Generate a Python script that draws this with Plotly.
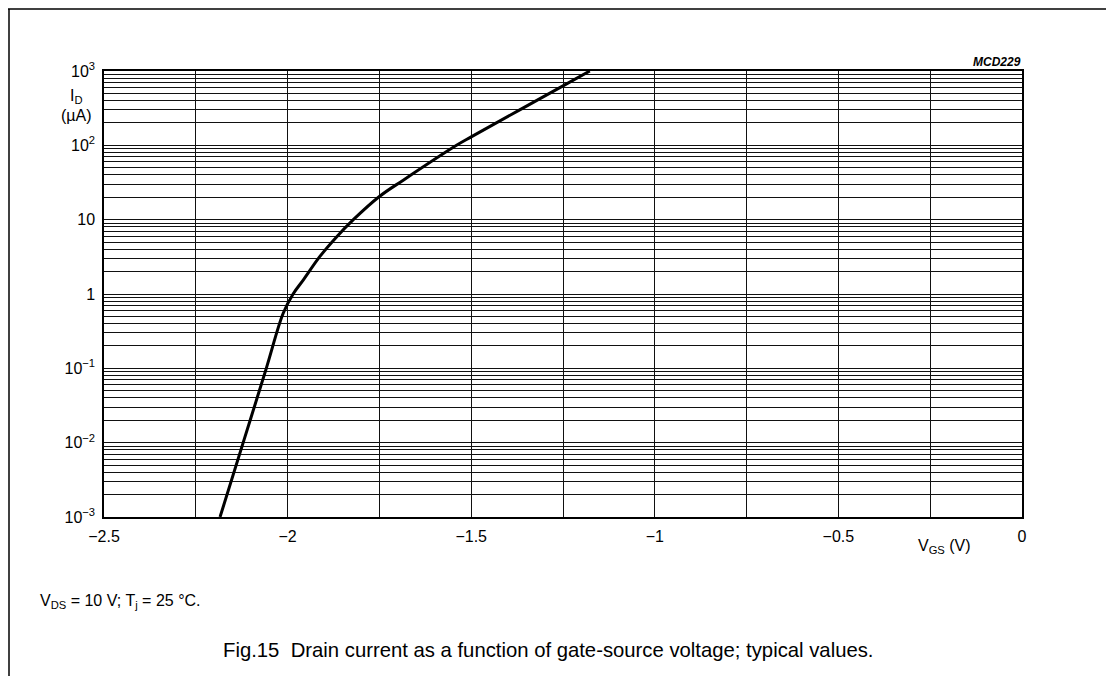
import plotly.graph_objects as go

# ---- data ----
vgs = [-2.184, -2.121, -2.058, -2.012, -1.985, -1.957, -1.912, -1.866, -1.821,
       -1.75, -1.685, -1.54, -1.5, -1.25, -1.177]
id_ua = [0.001, 0.01, 0.1, 0.55, 1.0, 1.55, 3.2, 5.9, 10, 20.5, 34, 100, 130, 630, 1000]

x_tickvals = [-2.5, -2.0, -1.5, -1.0, -0.5, 0.0]
x_ticktext = ["\u22122.5", "\u22122", "\u22121.5", "\u22121", "\u22120.5", "0"]
y_tickvals = [1e-3, 1e-2, 1e-1, 1, 10, 100, 1000]
y_ticktext = ["10<sup>\u22123</sup>", "10<sup>\u22122</sup>", "10<sup>\u22121</sup>",
              "1", "10", "10<sup>2</sup>", "10<sup>3</sup>"]
y_minor = [m * d for d in [1e-3, 1e-2, 1e-1, 1, 10, 100] for m in range(2, 10)]

W, H = 1106, 676
L, R, T, B = 104, 1022, 71, 517


def px(x):
    return (x - L) / (R - L)


def py(y):
    return (B - y) / (B - T)


FONT = "Arial, Liberation Sans, Helvetica, sans-serif"

fig = go.Figure()
fig.add_trace(go.Scatter(x=vgs, y=id_ua, mode="lines",
                         line=dict(color="black", width=3, shape="spline",
                                   smoothing=1.0),
                         showlegend=False, hoverinfo="x+y"))

fig.update_layout(
    width=W, height=H,
    margin=dict(l=L, r=W - R, t=T, b=H - B),
    paper_bgcolor="white", plot_bgcolor="white",
    font=dict(family=FONT, color="black", size=16),
    xaxis=dict(range=[-2.5, 0], tickmode="array", tickvals=x_tickvals,
               ticktext=x_ticktext, showgrid=True, gridcolor="#111", gridwidth=1,
               minor=dict(dtick=0.25, tick0=0, showgrid=True, gridcolor="#111",
                          gridwidth=1),
               showline=True, linecolor="black", linewidth=1.5, mirror=True,
               zeroline=False, ticks="", ticklabelstandoff=4,
               tickfont=dict(size=16)),
    yaxis=dict(type="log", range=[-3, 3], tickmode="array", tickvals=y_tickvals,
               ticktext=y_ticktext, showgrid=True, gridcolor="#111", gridwidth=1,
               minor=dict(tickmode="array", tickvals=y_minor, showgrid=True,
                          gridcolor="#111", gridwidth=1),
               showline=True, linecolor="black", linewidth=1.5, mirror=True,
               zeroline=False, ticks="", ticklabelstandoff=4,
               tickfont=dict(size=16)),
)

ann = [
    dict(x=px(76), y=py(97), text="I<sub>D</sub>", font=dict(size=16)),
    dict(x=px(76), y=py(116), text="(\u00b5A)", font=dict(size=16)),
    dict(x=px(1023), y=py(62), text="<b><i>MCD229</i></b>", xanchor="right",
         font=dict(size=12)),
    dict(x=px(944), y=py(546), text="V<sub>GS</sub> (V)", font=dict(size=16)),
    dict(x=px(38), y=py(601), text="V<sub>DS</sub> = 10 V; T<sub>j</sub> = 25 \u00b0C.",
         xanchor="left", font=dict(size=16)),
    dict(x=px(548), y=py(650),
         text="Fig.15  Drain current as a function of gate-source voltage; typical values.",
         font=dict(size=20.3)),
]
for a in ann:
    a.update(xref="paper", yref="paper", showarrow=False)
    a.setdefault("xanchor", "center")
    a["yanchor"] = "middle"
fig.update_layout(annotations=ann)

# outer frame of the figure sheet
fig.add_shape(type="line", xref="paper", yref="paper",
              x0=px(8), x1=px(1106), y0=py(9), y1=py(9),
              line=dict(color="black", width=1.5))
fig.add_shape(type="line", xref="paper", yref="paper",
              x0=px(9), x1=px(9), y0=py(9), y1=py(676),
              line=dict(color="black", width=1.5))

fig.write_html("out.html")
